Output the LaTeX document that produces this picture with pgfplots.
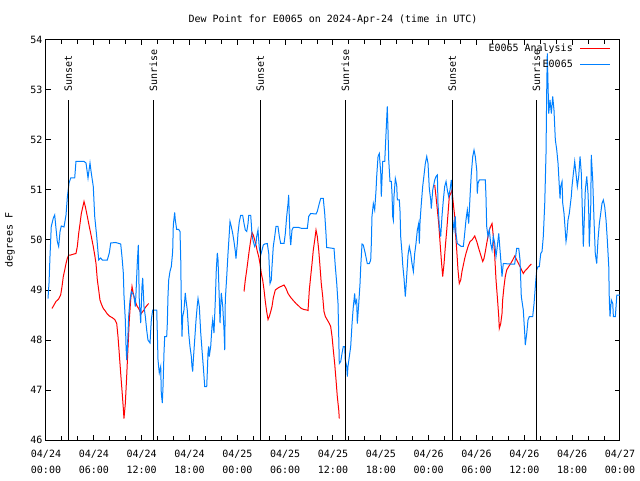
\documentclass[border=0pt]{standalone}
\usepackage{pgfplots}
\pgfplotsset{compat=1.18}
\usepackage{fontspec}
\setmainfont{DejaVu Sans Mono}
\setmonofont{DejaVu Sans Mono}
\definecolor{gpblue}{RGB}{0,128,255}
\definecolor{gpred}{RGB}{255,0,0}
\begin{document}
\begin{tikzpicture}[x=1pt,y=1pt,font=\fontsize{10}{12}\selectfont]
\useasboundingbox (0,0) rectangle (640,480);
\begin{axis}[
  at={(46pt,40pt)}, anchor=south west,
  width=574pt, height=400pt, scale only axis,
  xmin=0, xmax=72, ymin=46, ymax=54,
  /pgf/number format/assume math mode=true,
  xtick={0,6,...,72},
  xticklabels={{04/24\\00:00},{04/24\\06:00},{04/24\\12:00},{04/24\\18:00},{04/25\\00:00},{04/25\\06:00},{04/25\\12:00},{04/25\\18:00},{04/26\\00:00},{04/26\\06:00},{04/26\\12:00},{04/26\\18:00},{04/27\\00:00}},
  xticklabel style={align=center, font=\fontsize{10}{16}\selectfont, yshift=-7pt},
  minor xtick={0,2,...,72},
  ytick={46,47,...,54},
  yticklabel style={font=\fontsize{10}{12}\selectfont},
  major tick length=5pt, minor tick length=4pt,
  every tick/.style={black, line width=1pt},
  axis line style={line width=1pt},
  title={Dew Point for E0065 on 2024-Apr-24 (time in UTC)},
  title style={at={(0.5,1)}, anchor=base, yshift=11pt},
  ylabel={degrees F},
  ylabel style={at={(axis description cs:-0.0627,0.5)}, anchor=center},
  legend plot pos=right,
  legend image code/.code={\draw[#1] (0pt,0pt) -- (30pt,0pt);},
  legend style={at={(1,1)}, anchor=north east, xshift=-9pt, yshift=-2pt,
    draw=none, fill=none, inner sep=0pt, row sep=3pt, column sep=5pt,
    cells={anchor=east}},
  unbounded coords=jump,
]
\addplot[gpred, line width=1pt] coordinates {
(0.75,48.63)(1.00,48.70)(1.25,48.77)(1.59,48.82)(1.84,48.90)(2.01,49.07)(2.17,49.27)(2.35,49.40)(2.51,49.53)(2.67,49.63)(2.85,49.70)(3.10,49.70)(3.51,49.72)(3.76,49.73)(3.93,49.87)(4.10,50.13)(4.27,50.33)(4.43,50.53)(4.60,50.65)(4.77,50.77)(4.93,50.67)(5.11,50.53)(5.27,50.40)(5.43,50.27)(5.61,50.13)(5.77,50.00)(5.93,49.87)(6.11,49.70)(6.27,49.53)(6.44,49.20)(6.61,49.00)(6.77,48.80)(6.94,48.72)(7.19,48.63)(7.44,48.58)(7.69,48.52)(7.94,48.48)(8.28,48.45)(8.62,48.41)(8.87,48.33)(9.03,48.07)(9.19,47.73)(9.37,47.33)(9.53,47.00)(9.70,46.63)(9.78,46.43)(9.95,46.73)(10.12,47.27)(10.29,47.87)(10.45,48.40)(10.62,48.80)(10.79,49.07)(10.95,48.93)(11.13,48.80)(11.29,48.73)(11.45,48.67)(11.63,48.63)(11.79,48.57)(11.95,48.53)(12.13,48.57)(12.29,48.60)(12.46,48.65)(12.71,48.70)(12.88,48.73)
(18,nan)
(24.84,48.97)(25.00,49.20)(25.18,49.40)(25.34,49.60)(25.50,49.80)(25.68,50.00)(25.84,50.15)(26.00,50.10)(26.18,50.00)(26.34,49.90)(26.51,49.77)(26.68,49.67)(26.84,49.53)(27.01,49.33)(27.18,49.20)(27.35,49.00)(27.51,48.77)(27.68,48.57)(27.85,48.41)(28.01,48.47)(28.19,48.57)(28.35,48.67)(28.51,48.84)(28.76,49.00)(29.19,49.05)(29.60,49.08)(29.86,49.10)(30.11,49.03)(30.36,48.93)(30.70,48.85)(31.02,48.79)(31.36,48.73)(31.70,48.68)(32.03,48.63)(32.36,48.61)(32.70,48.60)(32.87,48.59)(33.03,49.00)(33.20,49.27)(33.37,49.53)(33.53,49.80)(33.71,50.00)(33.87,50.20)(34.03,50.07)(34.21,49.80)(34.37,49.47)(34.53,49.13)(34.71,48.87)(34.87,48.57)(35.04,48.47)(35.29,48.40)(35.54,48.33)(35.71,48.27)(35.88,48.07)(36.04,47.80)(36.21,47.53)(36.38,47.20)(36.54,46.87)(36.72,46.60)(36.79,46.43)
(42,nan)
(48.76,51.10)(48.92,50.87)(49.09,50.60)(49.26,50.33)(49.42,49.97)(49.59,49.60)(49.76,49.27)(49.93,49.53)(50.09,49.87)(50.27,50.20)(50.43,50.53)(50.59,50.87)(50.77,50.93)(50.93,51.00)(51.09,50.73)(51.27,50.47)(51.34,50.20)(51.52,49.80)(51.68,49.40)(51.84,49.13)(52.02,49.20)(52.18,49.37)(52.35,49.50)(52.52,49.63)(52.68,49.73)(52.94,49.87)(53.19,49.97)(53.44,50.00)(53.78,50.08)(54.03,49.97)(54.28,49.83)(54.53,49.70)(54.78,49.57)(54.94,49.63)(55.11,49.77)(55.28,49.93)(55.44,50.07)(55.61,50.20)(55.78,50.27)(55.95,50.33)(56.11,50.07)(56.29,49.67)(56.45,49.20)(56.61,48.87)(56.79,48.47)(56.86,48.23)(57.04,48.33)(57.20,48.53)(57.28,48.80)(57.45,49.07)(57.61,49.27)(57.79,49.40)(58.04,49.47)(58.29,49.53)(58.54,49.60)(58.79,49.68)(58.96,49.63)(59.21,49.55)(59.46,49.47)(59.87,49.33)(60.12,49.39)(60.38,49.43)(60.63,49.48)(60.88,49.52)
};
\addlegendentry{E0065 Analysis}

\addplot[gpblue, line width=1pt] coordinates {
(0.25,48.83)(0.38,49.14)(0.50,49.67)(0.66,50.27)(0.92,50.44)(1.09,50.50)(1.25,50.24)(1.42,49.97)(1.59,49.87)(1.76,50.17)(1.92,50.28)(2.26,50.26)(2.51,50.50)(2.67,50.84)(2.89,51.14)(3.10,51.24)(3.60,51.24)(3.76,51.57)(4.77,51.57)(5.02,51.54)(5.27,51.24)(5.52,51.54)(5.68,51.34)(5.93,51.07)(6.11,50.47)(6.36,50.07)(6.61,49.60)(6.86,49.64)(7.06,49.60)(7.69,49.60)(7.94,49.74)(8.12,49.94)(8.74,49.95)(9.37,49.92)(9.53,49.67)(9.70,49.34)(9.78,48.90)(9.95,48.40)(10.04,47.87)(10.12,47.60)(10.20,47.80)(10.37,48.47)(10.54,48.80)(10.70,48.97)(10.88,48.93)(11.04,48.87)(11.20,48.67)(11.29,48.94)(11.45,49.54)(11.58,49.90)(11.70,48.80)(11.88,48.34)(12.04,49.07)(12.13,49.24)(12.29,48.67)(12.46,48.47)(12.63,48.20)(12.79,48.00)(13.05,47.94)(13.21,48.40)(13.38,48.60)(13.89,48.60)(14.05,47.60)(14.21,47.34)(14.39,47.47)(14.46,46.94)(14.59,46.74)(14.68,47.07)(14.80,47.74)(14.89,48.07)(15.14,48.07)(15.22,48.34)(15.30,48.87)(15.39,49.20)(15.55,49.37)(15.72,49.47)(15.89,49.77)(15.97,50.30)(16.14,50.55)(16.22,50.40)(16.39,50.21)(16.65,50.21)(16.81,50.17)(16.90,49.63)(16.97,48.74)(17.06,48.07)(17.15,48.47)(17.31,48.60)(17.47,48.94)(17.56,48.80)(17.72,48.60)(17.90,48.14)(18.06,47.87)(18.23,47.67)(18.31,47.47)(18.40,47.37)(18.48,47.60)(18.65,48.00)(18.82,48.40)(18.98,48.70)(19.07,48.83)(19.23,48.67)(19.41,48.14)(19.57,47.80)(19.73,47.47)(19.91,47.07)(20.16,47.07)(20.23,47.34)(20.32,47.74)(20.41,47.87)(20.48,47.67)(20.66,47.87)(20.82,48.27)(20.91,48.40)(21.07,48.14)(21.24,48.80)(21.36,49.40)(21.49,49.74)(21.58,49.60)(21.74,48.80)(21.83,48.34)(21.91,48.67)(21.99,48.94)(22.17,48.67)(22.33,48.20)(22.42,47.80)(22.49,48.80)(22.67,49.27)(22.83,49.73)(22.99,50.13)(23.08,50.37)(23.24,50.27)(23.42,50.13)(23.58,49.97)(23.75,49.77)(23.83,49.63)(24.00,49.93)(24.08,50.13)(24.25,50.37)(24.42,50.49)(24.67,50.49)(24.84,50.33)(25.00,50.20)(25.18,50.17)(25.34,50.33)(25.43,50.49)(25.68,50.49)(25.75,50.33)(25.84,50.10)(26.00,49.97)(26.18,49.87)(26.34,49.93)(26.43,50.07)(26.59,50.20)(26.76,49.83)(26.93,49.70)(27.10,49.80)(27.26,49.90)(27.43,49.92)(27.76,49.93)(27.94,49.73)(28.10,49.13)(28.26,49.20)(28.35,49.47)(28.51,49.87)(28.69,50.07)(28.85,50.27)(29.10,50.27)(29.27,50.07)(29.44,49.93)(29.86,49.93)(30.02,50.13)(30.19,50.47)(30.36,50.73)(30.44,50.90)(30.52,50.47)(30.61,50.07)(30.70,49.90)(30.86,50.20)(31.02,50.25)(31.70,50.25)(32.11,50.23)(32.78,50.23)(32.95,50.47)(33.20,50.53)(33.87,50.52)(34.03,50.57)(34.28,50.73)(34.46,50.83)(34.78,50.83)(34.96,50.53)(35.12,50.13)(35.21,49.85)(36.13,49.83)(36.29,49.47)(36.47,49.13)(36.63,48.73)(36.72,48.07)(36.79,47.53)(36.97,47.57)(37.13,47.73)(37.29,47.87)(37.47,47.87)(37.54,47.60)(37.72,47.47)(37.80,47.27)(37.88,47.47)(38.05,47.67)(38.22,47.87)(38.39,48.33)(38.55,48.67)(38.72,48.93)(38.80,48.73)(38.97,48.80)(39.05,48.33)(39.23,48.73)(39.39,49.13)(39.48,49.47)(39.64,49.92)(39.80,49.90)(40.05,49.73)(40.30,49.53)(40.56,49.53)(40.73,49.60)(40.81,49.93)(40.89,50.47)(41.06,50.73)(41.23,50.60)(41.40,51.00)(41.48,51.27)(41.65,51.67)(41.81,51.73)(41.99,51.33)(42.06,50.87)(42.24,51.57)(42.49,51.57)(42.65,52.13)(42.81,52.67)(42.90,52.20)(42.99,51.60)(43.15,51.17)(43.32,51.17)(43.40,50.93)(43.49,50.47)(43.57,50.40)(43.65,50.87)(43.82,51.23)(43.99,51.10)(44.07,50.80)(44.32,50.80)(44.41,50.57)(44.49,50.07)(44.66,49.73)(44.75,49.50)(44.91,49.23)(45.07,48.87)(45.16,49.07)(45.32,49.47)(45.41,49.70)(45.57,49.87)(45.75,49.73)(45.91,49.53)(46.08,49.37)(46.25,49.73)(46.41,49.93)(46.58,50.20)(46.75,50.33)(46.83,49.93)(46.92,50.37)(47.08,50.73)(47.25,51.07)(47.42,51.30)(47.58,51.53)(47.76,51.67)(47.92,51.53)(48.08,51.03)(48.26,50.80)(48.33,50.63)(48.51,51.00)(48.76,51.20)(48.92,51.27)(49.09,51.30)(49.17,50.73)(49.34,50.27)(49.51,50.07)(49.67,50.47)(49.84,50.80)(50.01,51.07)(50.18,51.17)(50.34,51.00)(50.51,50.87)(50.68,51.00)(50.84,51.20)(50.93,51.00)(51.02,50.40)(51.18,50.20)(51.34,50.47)(51.43,50.13)(51.59,49.93)(51.84,49.90)(52.09,49.87)(52.35,49.87)(52.52,50.13)(52.68,50.40)(52.85,50.60)(53.02,50.33)(53.19,50.87)(53.35,51.33)(53.53,51.67)(53.69,51.80)(53.85,51.67)(54.03,51.40)(54.10,50.93)(54.19,51.13)(54.35,51.20)(55.11,51.20)(55.19,50.87)(55.28,50.27)(55.44,50.07)(55.61,50.20)(55.78,49.93)(55.95,49.80)(56.11,50.07)(56.29,49.93)(56.45,49.67)(56.61,49.87)(56.79,50.13)(56.95,49.80)(57.11,49.47)(57.20,49.27)(57.36,49.53)(58.20,49.52)(58.79,49.52)(59.04,49.83)(59.30,49.83)(59.46,49.60)(59.62,48.87)(59.87,48.60)(60.05,48.13)(60.12,47.90)(60.30,48.13)(60.46,48.40)(60.63,48.47)(61.05,48.47)(61.22,48.73)(61.38,49.07)(61.55,49.40)(61.72,49.47)(61.88,49.47)(62.06,49.73)(62.22,49.77)(62.38,50.07)(62.56,50.73)(62.72,51.73)(62.81,53.00)(62.88,53.73)(62.97,53.13)(63.06,52.53)(63.22,52.80)(63.39,52.53)(63.56,52.87)(63.72,52.60)(63.89,52.00)(64.06,51.81)(64.23,51.53)(64.39,51.07)(64.48,50.83)(64.56,51.07)(64.73,51.17)(64.82,50.73)(64.98,50.53)(65.14,50.17)(65.23,49.97)(65.32,50.07)(65.48,50.40)(65.64,50.53)(65.89,50.87)(65.98,51.07)(66.15,51.33)(66.32,51.57)(66.48,51.33)(66.65,51.07)(66.82,51.27)(66.99,51.67)(67.15,51.33)(67.24,50.80)(67.32,50.33)(67.40,49.87)(67.49,50.27)(67.65,51.00)(67.83,51.27)(67.99,50.93)(68.08,50.53)(68.15,49.87)(68.33,50.67)(68.40,51.70)(68.58,51.20)(68.74,50.40)(68.90,49.73)(69.08,49.53)(69.24,50.00)(69.41,50.33)(69.58,50.53)(69.74,50.73)(69.91,50.80)(70.08,50.67)(70.25,50.40)(70.41,50.00)(70.59,49.47)(70.66,48.80)(70.75,48.47)(70.91,48.80)(71.09,48.73)(71.17,48.47)(71.42,48.47)(71.60,48.90)(72.00,48.90)
};
\addlegendentry{E0065}

\addplot[black, line width=1pt, forget plot] coordinates {(2.80,46) (2.80,52.8)};
\addplot[black, line width=1pt, forget plot] coordinates {(13.46,46) (13.46,52.8)};
\addplot[black, line width=1pt, forget plot] coordinates {(26.88,46) (26.88,52.8)};
\addplot[black, line width=1pt, forget plot] coordinates {(37.54,46) (37.54,52.8)};
\addplot[black, line width=1pt, forget plot] coordinates {(50.97,46) (50.97,52.8)};
\addplot[black, line width=1pt, forget plot] coordinates {(61.50,46) (61.50,52.8)};
\node[rotate=90, anchor=west, inner sep=0pt] at (axis cs:2.80,52.96) {Sunset};
\node[rotate=90, anchor=west, inner sep=0pt] at (axis cs:13.46,52.96) {Sunrise};
\node[rotate=90, anchor=west, inner sep=0pt] at (axis cs:26.88,52.96) {Sunset};
\node[rotate=90, anchor=west, inner sep=0pt] at (axis cs:37.54,52.96) {Sunrise};
\node[rotate=90, anchor=west, inner sep=0pt] at (axis cs:50.97,52.96) {Sunset};
\node[rotate=90, anchor=west, inner sep=0pt] at (axis cs:61.50,52.96) {Sunrise};
\end{axis}
\end{tikzpicture}
\end{document}
